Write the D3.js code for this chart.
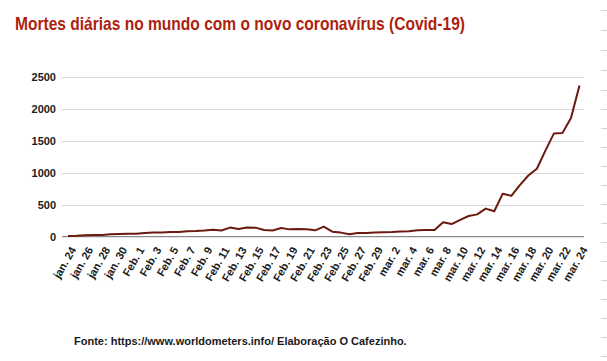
<!DOCTYPE html>
<html>
<head>
<meta charset="utf-8">
<script src="https://cdn.jsdelivr.net/npm/d3@7"></script>
<style>
  html, body { margin: 0; padding: 0; background: #ffffff; }
  svg { display: block; }
</style>
</head>
<body>
<svg id="chart" width="607" height="361"></svg>
<script>
const categories = [
  "jan. 24","jan. 25","jan. 26","jan. 27","jan. 28","jan. 29","jan. 30","jan. 31",
  "Feb. 1","Feb. 2","Feb. 3","Feb. 4","Feb. 5","Feb. 6","Feb. 7","Feb. 8","Feb. 9","Feb. 10",
  "Feb. 11","Feb. 12","Feb. 13","Feb. 14","Feb. 15","Feb. 16","Feb. 17","Feb. 18","Feb. 19",
  "Feb. 20","Feb. 21","Feb. 22","Feb. 23","Feb. 24","Feb. 25","Feb. 26","Feb. 27","Feb. 28","Feb. 29",
  "mar. 1","mar. 2","mar. 3","mar. 4","mar. 5","mar. 6","mar. 7","mar. 8","mar. 9","mar. 10",
  "mar. 11","mar. 12","mar. 13","mar. 14","mar. 15","mar. 16","mar. 17","mar. 18","mar. 19",
  "mar. 20","mar. 21","mar. 22","mar. 23","mar. 24"
];
const deaths = [
  12, 15, 24, 26, 26, 38, 43, 46,
  45, 57, 64, 66, 73, 73, 86, 89, 97, 108,
  97, 143, 121, 143, 142, 105, 98, 136, 115,
  120, 117, 100, 158, 78, 64, 37, 58, 58, 64,
  68, 72, 80, 84, 100, 104, 104, 225, 198, 265,
  325, 350, 441, 400, 675, 640, 810, 960, 1065,
  1350, 1620, 1625, 1860, 2370
];
const yTicks = [0, 500, 1000, 1500, 2000, 2500];
const xTickLabels = categories.filter((d, i) => i % 2 === 0);
const titleText = "Mortes diárias no mundo com o novo coronavírus (Covid-19)";
const sourceText = "Fonte: https://www.worldometers.info/ Elaboração O Cafezinho.";

const svg = d3.select("#chart");
const plot = { left: 62, right: 584, top: 77.3, bottom: 236.7 };

const x = d3.scalePoint().domain(categories).range([68, 579.5]);
const y = d3.scaleLinear().domain([0, 2500]).range([plot.bottom, plot.top]);

// right-edge decoration marks
const marks = d3.range(19).map(k => k < 5 ? 10.5 + 20 * k : 90.5 + 19 * (k - 4));
svg.append("g").selectAll("line").data(marks).join("line")
  .attr("x1", 601).attr("x2", 607)
  .attr("y1", d => d).attr("y2", d => d)
  .attr("stroke", "#d4d4d4").attr("stroke-width", 1);

// title (narrow bold face emulated)
svg.append("text")
  .attr("x", 15).attr("y", 29.5)
  .attr("font-family", "'Liberation Sans', Arial, sans-serif")
  .attr("font-weight", "bold").attr("font-size", 19)
  .attr("textLength", 450).attr("lengthAdjust", "spacingAndGlyphs")
  .attr("fill", "#ad1f0f")
  .text(titleText);

// gridlines
svg.append("g").selectAll("line").data(yTicks.filter(d => d > 0)).join("line")
  .attr("x1", plot.left).attr("x2", plot.right)
  .attr("y1", d => Math.round(y(d)) + 0.5).attr("y2", d => Math.round(y(d)) + 0.5)
  .attr("stroke", "#d9d9d9").attr("stroke-width", 1);

// y axis labels
const yAxis = svg.append("g")
  .attr("transform", `translate(${plot.left},0)`)
  .call(d3.axisLeft(y).tickValues(yTicks).tickSize(0).tickPadding(6).tickFormat(d3.format("d")));
yAxis.select(".domain").remove();
yAxis.selectAll("text")
  .attr("font-family", "'Liberation Sans', Arial, sans-serif")
  .attr("font-weight", "bold").attr("font-size", 11).attr("fill", "#1a1a1a");

// baseline
svg.append("line")
  .attr("x1", plot.left).attr("x2", plot.right)
  .attr("y1", plot.bottom).attr("y2", plot.bottom)
  .attr("stroke", "#8a8a8a").attr("stroke-width", 1.3);

// x axis labels
const xAxis = svg.append("g")
  .attr("transform", `translate(0,${plot.bottom})`)
  .call(d3.axisBottom(x).tickValues(xTickLabels).tickSize(0));
xAxis.select(".domain").remove();
xAxis.selectAll("text")
  .attr("x", 0).attr("y", 0).attr("dy", 0)
  .attr("text-anchor", "end")
  .attr("transform", "translate(8,13) rotate(-60)")
  .attr("font-family", "'Liberation Sans', Arial, sans-serif")
  .attr("font-weight", "bold").attr("font-size", 11).attr("fill", "#1a1a1a");

// line
const line = d3.line()
  .x((d, i) => x(categories[i]))
  .y(d => y(d));
svg.append("path")
  .datum(deaths)
  .attr("d", line)
  .attr("fill", "none")
  .attr("stroke", "#6b1a0d")
  .attr("stroke-width", 2)
  .attr("stroke-linejoin", "round");

// source
svg.append("text")
  .attr("x", 74).attr("y", 345)
  .attr("font-family", "'Liberation Sans', Arial, sans-serif")
  .attr("font-weight", "bold").attr("font-size", 11)
  .attr("fill", "#1a1a1a")
  .text(sourceText);
</script>
</body>
</html>
